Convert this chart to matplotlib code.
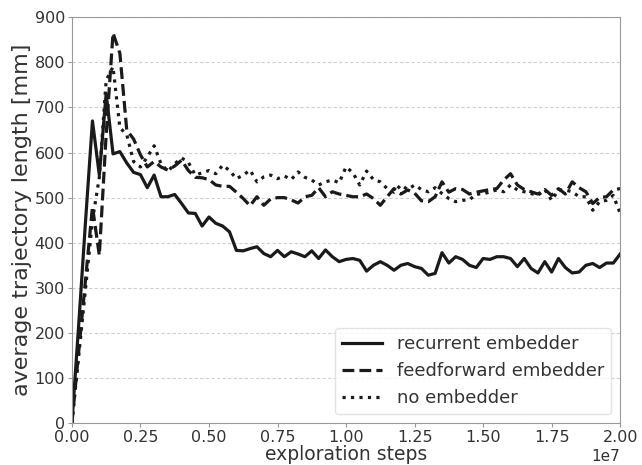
import numpy as np
import matplotlib.pyplot as plt

# evaluation every 250k exploration steps
steps = np.arange(81) * 2.5e5

recurrent = [0, 220, 450, 670, 550, 731, 597, 602, 577, 556,
             551, 522, 550, 502, 502, 507, 487, 466, 465, 437,
             457, 443, 437, 424, 383, 382, 387, 391, 376, 369,
             383, 369, 380, 375, 369, 382, 365, 384, 369, 358,
             363, 365, 361, 337, 350, 358, 350, 339, 350, 354,
             347, 343, 328, 332, 378, 355, 369, 363, 350, 345,
             365, 363, 369, 369, 365, 347, 365, 343, 333, 358,
             335, 365, 345, 333, 335, 350, 354, 345, 355, 355,
             375]

feedforward = [0, 160, 320, 480, 372, 640, 865, 820, 650, 630,
               595, 568, 580, 568, 561, 570, 583, 560, 545, 544,
               540, 528, 525, 525, 512, 498, 482, 502, 483, 497,
               500, 500, 495, 488, 502, 505, 522, 502, 513, 508,
               505, 502, 502, 508, 498, 483, 502, 520, 508, 517,
               510, 493, 491, 502, 535, 512, 520, 518, 508, 512,
               515, 518, 520, 539, 553, 528, 518, 513, 508, 518,
               505, 520, 508, 535, 522, 513, 487, 500, 502, 517,
               520]

no_embed = [0, 150, 300, 450, 545, 760, 790, 655, 640, 580,
            568, 590, 615, 575, 558, 575, 588, 578, 550, 555,
            560, 553, 572, 560, 542, 550, 561, 535, 546, 550,
            542, 548, 540, 557, 545, 539, 528, 535, 539, 533,
            568, 555, 528, 559, 540, 535, 520, 512, 528, 518,
            528, 518, 513, 522, 509, 498, 491, 494, 495, 508,
            508, 513, 517, 513, 528, 517, 513, 509, 505, 518,
            494, 517, 517, 513, 502, 502, 472, 491, 494, 505,
            465]

text_col = '#333333'
spine_col = '#999999'

fig = plt.figure(figsize=(6.42, 4.65), dpi=100)
ax = fig.add_axes([0.112, 0.090, 0.854, 0.873])

ax.plot(steps, recurrent, color='#1a1a1a', lw=2.3, ls='-', label='recurrent embedder')
ax.plot(steps, feedforward, color='#1a1a1a', lw=2.3, ls='--', label='feedforward embedder')
ax.plot(steps, no_embed, color='#1a1a1a', lw=2.3, ls=':', label='no embedder')

ax.set_xlim(0, 2e7)
ax.set_ylim(0, 900)
ax.set_yticks(np.arange(0, 901, 100))
ax.set_xticks(np.arange(0, 2.01e7, 0.25e7))
ax.yaxis.grid(True, ls=(0, (3, 2)), color='#d0d0d0', lw=0.8)
ax.set_axisbelow(True)

for s in ax.spines.values():
    s.set_color(spine_col)
ax.tick_params(colors=spine_col, labelcolor=text_col, labelsize=11.5,
               length=3, pad=2)
ax.xaxis.get_offset_text().set_color(text_col)
ax.xaxis.get_offset_text().set_fontsize(11)

ax.set_xlabel('exploration steps', fontsize=13.5, color=text_col, labelpad=0)
ax.set_ylabel('average trajectory length [mm]', fontsize=16, color=text_col,
              labelpad=2)

leg = ax.legend(loc='lower right', fontsize=13, frameon=True, handlelength=2.2)
leg.get_frame().set_edgecolor('#dddddd')
for t in leg.get_texts():
    t.set_color(text_col)

fig.savefig('out.png', dpi=100)
